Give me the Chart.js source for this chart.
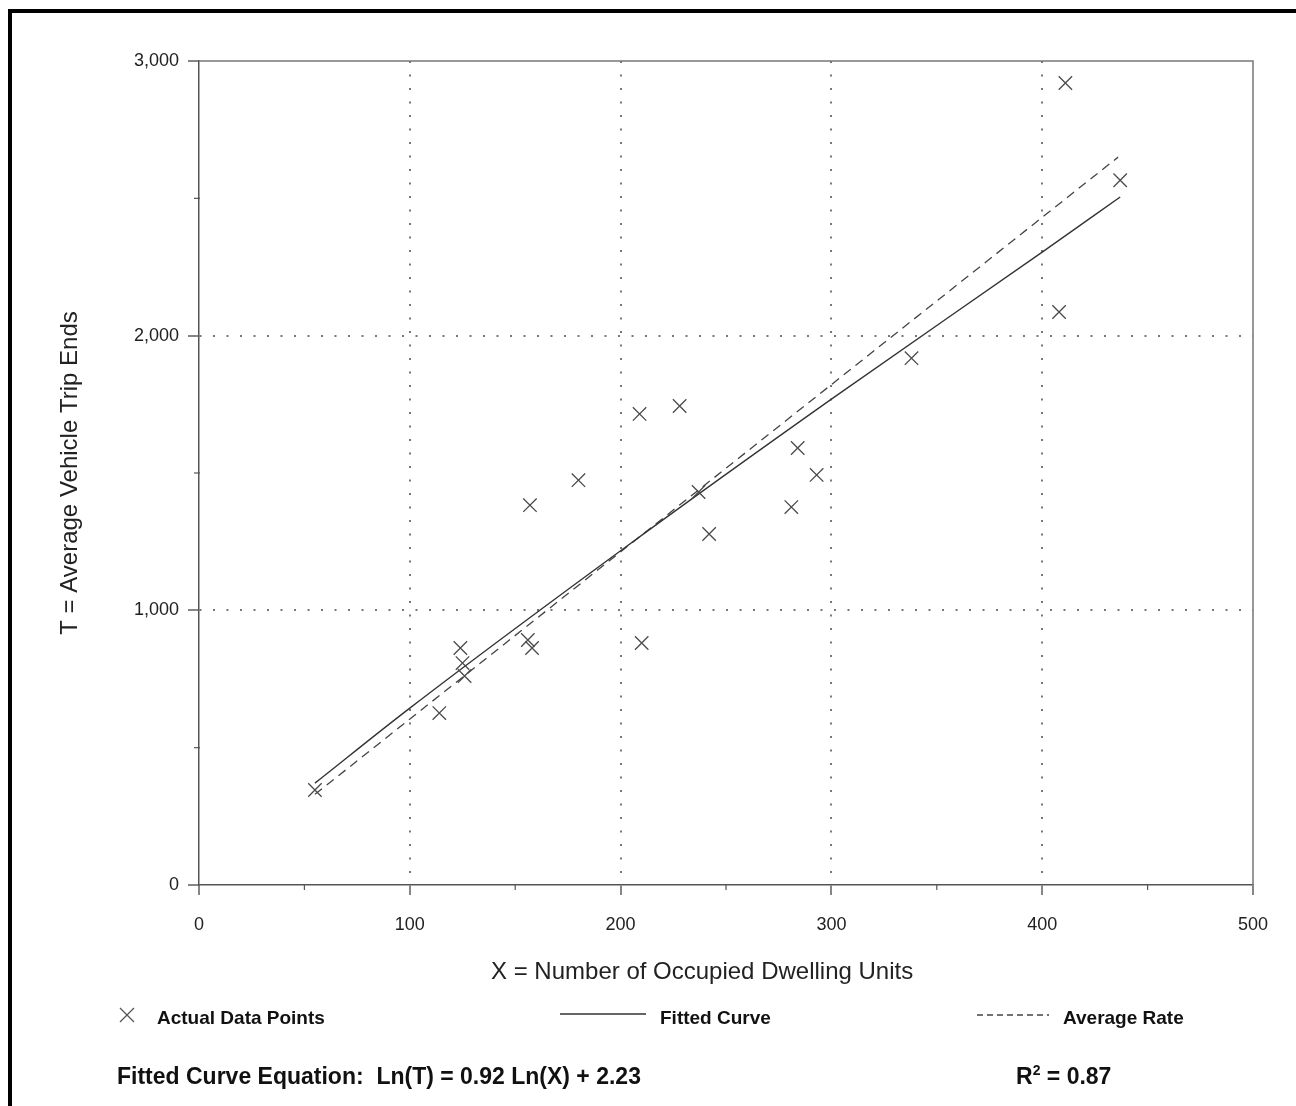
<!DOCTYPE html>
<html>
<head>
<meta charset="utf-8">
<script src="https://cdn.jsdelivr.net/npm/chart.js@4/dist/chart.umd.min.js"></script>
<style>
  html, body { margin: 0; padding: 0; background: #fff; overflow: hidden; width: 1296px; height: 1106px; }
  #wrap { position: relative; width: 1296px; height: 1106px; }
  #frame { position: absolute; left: 8px; top: 9px; width: 1400px; height: 1200px; border: 4px solid #000; box-sizing: border-box; pointer-events: none; }
  canvas { position: absolute; left: 0; top: 0; }
  .txt { position: absolute; font-family: "Liberation Sans", Arial, Helvetica, sans-serif; color: #111; white-space: nowrap; }
  .xt { font-size: 24px; left: 491px; top: 957px; line-height: 28px; color: #222; }
  .lg { font-size: 19px; font-weight: bold; line-height: 22px; top: 1007px; }
  .eq { font-size: 23px; font-weight: bold; line-height: 28px; top: 1062px; }
  sup { font-size: 14px; line-height: 0; vertical-align: 9px; }
  .mk { position: absolute; }
</style>
</head>
<body>
<div id="wrap">
  <canvas id="c" width="1296" height="1106"></canvas>
  <div id="frame"></div>
  <div class="txt xt">X = Number of Occupied Dwelling Units</div>
  <svg class="mk" style="left:119px;top:1007px" width="16" height="16"><path d="M1 1L15 15M15 1L1 15" stroke="#555" stroke-width="1.3"/></svg>
  <div class="txt lg" style="left:157px">Actual Data Points</div>
  <svg class="mk" style="left:560px;top:1009px" width="86" height="10"><path d="M0 5H86" stroke="#333" stroke-width="1.5"/></svg>
  <div class="txt lg" style="left:660px">Fitted Curve</div>
  <svg class="mk" style="left:977px;top:1010px" width="72" height="10"><path d="M0 5H72" stroke="#444" stroke-width="1.3" stroke-dasharray="6,4"/></svg>
  <div class="txt lg" style="left:1063px">Average Rate</div>
  <div class="txt eq" style="left:117px">Fitted Curve Equation:&nbsp; Ln(T) = 0.92 Ln(X) + 2.23</div>
  <div class="txt eq" style="left:1016px">R<sup>2</sup> = 0.87</div>
</div>
<script>
// Actual data points (X = occupied dwelling units, T = average vehicle trip ends)
const unitsX = [55, 114, 124, 125, 126, 156, 158, 157, 180, 209, 210, 228, 237, 242, 281, 284, 293, 338, 408, 411, 437];
const tripsT = [346, 626, 863, 808, 761, 892, 863, 1383, 1474, 1715, 881, 1744, 1431, 1278, 1376, 1591, 1493, 1918, 2086, 2920, 2566];

// Fitted curve
const fitX = [55, 100, 200, 300, 400, 437];
const fitT = [371, 644, 1217, 1769, 2304, 2505];

// Average rate line (dashed)
const avgX = [55, 436];
const avgT = [330, 2650];

// Axis ticks
const xMajorTicks = [0, 100, 200, 300, 400, 500];
const xMinorTicks = [50, 150, 250, 350, 450];
const yMajorTicks = [0, 1000, 2000, 3000];
const yMinorTicks = [500, 1500, 2500];

const toPts = (xs, ys) => xs.map((x, i) => ({ x: x, y: ys[i] }));

const frameAndMinor = {
  id: 'frameAndMinor',
  beforeDatasetsDraw(chart) {
    const { ctx, chartArea: a, scales } = chart;
    ctx.save();
    ctx.strokeStyle = '#777';
    ctx.lineWidth = 1.5;
    ctx.beginPath();
    ctx.moveTo(a.left, a.top);
    ctx.lineTo(a.right, a.top);
    ctx.lineTo(a.right, a.bottom);
    ctx.stroke();
    ctx.strokeStyle = '#555';
    ctx.lineWidth = 1.2;
    xMinorTicks.forEach(v => {
      const px = scales.x.getPixelForValue(v);
      ctx.beginPath(); ctx.moveTo(px, a.bottom - 1); ctx.lineTo(px, a.bottom + 5); ctx.stroke();
    });
    yMinorTicks.forEach(v => {
      const py = scales.y.getPixelForValue(v);
      ctx.beginPath(); ctx.moveTo(a.left - 5, py); ctx.lineTo(a.left + 1, py); ctx.stroke();
    });
    ctx.restore();
  }
};

const FONT = "'Liberation Sans', Arial, Helvetica, sans-serif";

new Chart(document.getElementById('c'), {
  type: 'scatter',
  data: {
    datasets: [
      {
        label: 'Actual Data Points',
        data: toPts(unitsX, tripsT),
        pointStyle: 'crossRot',
        pointRadius: 9.5,
        pointHoverRadius: 9.5,
        borderColor: '#4a4a4a',
        borderWidth: 1.3,
        showLine: false
      },
      {
        label: 'Fitted Curve',
        data: toPts(fitX, fitT),
        showLine: true,
        borderColor: '#333',
        borderWidth: 1.4,
        pointRadius: 0,
        tension: 0.3,
        cubicInterpolationMode: 'monotone'
      },
      {
        label: 'Average Rate',
        data: toPts(avgX, avgT),
        showLine: true,
        borderColor: '#444',
        borderWidth: 1.3,
        borderDash: [9, 6],
        pointRadius: 0
      }
    ]
  },
  options: {
    responsive: false,
    animation: false,
    devicePixelRatio: 1,
    layout: { padding: { left: 0, top: 61, right: 43, bottom: 161 } },
    plugins: { legend: { display: false }, tooltip: { enabled: false } },
    scales: {
      x: {
        type: 'linear',
        min: 0, max: 500,
        afterBuildTicks: s => { s.ticks = xMajorTicks.map(v => ({ value: v })); },
        afterFit: s => { s.height = 60; },
        ticks: { font: { family: FONT, size: 18 }, color: '#222', padding: 19 },
        grid: {
          color: c => (c.tick && c.tick.value > 0 && c.tick.value < 500) ? '#777' : 'rgba(0,0,0,0)',
          lineWidth: 2,
          tickColor: '#444',
          tickLength: 10,
          tickWidth: 1.3
        },
        border: { display: true, color: '#555', width: 1.5, dash: [2, 11.5] }
      },
      y: {
        type: 'linear',
        min: 0, max: 3000,
        afterBuildTicks: s => { s.ticks = yMajorTicks.map(v => ({ value: v })); },
        afterFit: s => { s.width = 199; },
        ticks: {
          font: { family: FONT, size: 18 }, color: '#222', padding: 9,
          callback: v => Number(v).toLocaleString('en-US')
        },
        grid: {
          color: c => (c.tick && c.tick.value > 0 && c.tick.value < 3000) ? '#777' : 'rgba(0,0,0,0)',
          lineWidth: 2,
          tickColor: '#444',
          tickLength: 11,
          tickWidth: 1.3
        },
        border: { display: true, color: '#555', width: 1.5, dash: [2, 11.5] },
        title: {
          display: true,
          text: 'T = Average Vehicle Trip Ends',
          font: { family: FONT, size: 24 },
          color: '#222',
          padding: { top: 56, bottom: 0 }
        }
      }
    }
  },
  plugins: [frameAndMinor]
});
</script>
</body>
</html>
